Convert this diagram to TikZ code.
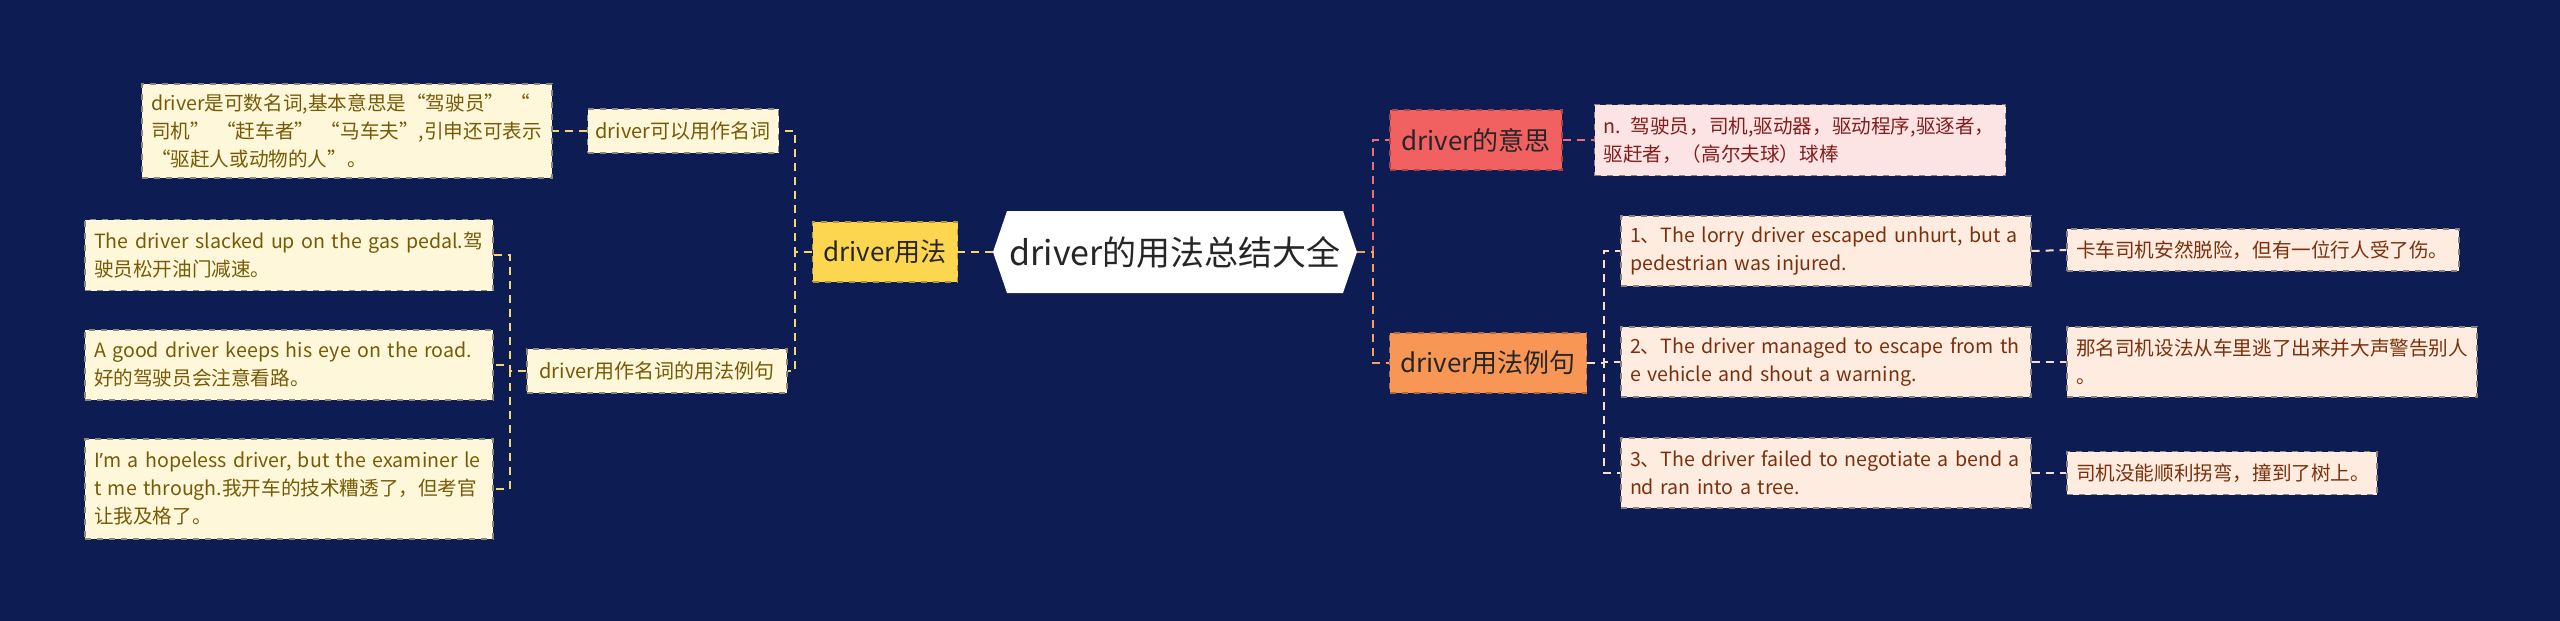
\documentclass[tikz,border=0pt]{standalone}
\usepackage{fontspec}
\setmainfont{Noto Sans CJK SC}
\newfontfamily\latinfont{Noto Sans}
\usepackage{xcolor}
\definecolor{bgnavy}{RGB}{13,29,84}
\definecolor{usagefill}{RGB}{252,214,78}
\definecolor{nounfill}{RGB}{255,247,218}
\definecolor{nountext}{RGB}{118,90,6}
\definecolor{yline}{RGB}{245,215,110}
\definecolor{meanfill}{RGB}{241,97,97}
\definecolor{meanleaf}{RGB}{253,228,228}
\definecolor{meantext}{RGB}{130,30,30}
\definecolor{pline}{RGB}{232,110,120}
\definecolor{exfill}{RGB}{248,150,86}
\definecolor{exleaf}{RGB}{254,236,224}
\definecolor{extext}{RGB}{122,48,12}
\definecolor{oline}{RGB}{245,160,100}
\definecolor{lline}{RGB}{250,222,200}

\begin{document}
\begin{tikzpicture}[x=0.5pt,y=-0.5pt,
  branch/.style={rectangle,fill=#1,draw=#1!70!black,dashed,line width=0.6pt,text=black!85,
    font=\fontsize{13}{16}\selectfont,minimum height=30pt,inner sep=0pt},
  sub/.style={rectangle,fill=nounfill,draw=nounfill!55!black,dashed,line width=0.6pt,text=nountext,
    font=\fontsize{10}{12}\selectfont,minimum height=22pt,inner sep=0pt},
  leaf/.style={rectangle,fill=#1,draw=#1!55!black,dashed,line width=0.6pt,
    font=\fontsize{9.8}{14}\selectfont,align=left,inner xsep=4.5pt,inner ysep=0pt},
  yleaf/.style={leaf=nounfill,text=nountext},
  pleaf/.style={leaf=meanleaf,text=meantext},
  oleaf/.style={leaf=exleaf,text=extext},
  link/.style={draw=#1,dash pattern=on 4pt off 3pt,line width=1pt}]
\fill[bgnavy] (0,0) rectangle (2560,621);
\useasboundingbox (0,0) rectangle (2560,621);

% centre topic
\fill[white] (993,252) -- (1007,211) -- (1343,211) -- (1357,252) -- (1343,293) -- (1007,293) -- cycle;
\node[font=\fontsize{17}{20}\selectfont,text=black!85] (root) at (1175,252) {driver的用法总结大全};
\coordinate (root-w) at (993,252);
\coordinate (root-e) at (1357,252);

% left branch
\node[branch=usagefill,minimum width=72.5pt] (usage) at (885,252) {driver用法};
\node[sub,minimum width=95.5pt] (noun) at (683,131) {driver可以用作名词};
\node[sub,minimum width=130pt] (nounex) at (657,371) {driver用作名词的用法例句};
\node[yleaf,text width=196pt,minimum height=47pt] (def) at (347,131)
  {driver是可数名词,基本意思是“驾驶员” “\\司机” “赶车者” “马车夫”,引申还可表示\\ “驱赶人或动物的人”。};
\node[yleaf,text width=195pt,minimum height=35.5pt] (sent1) at (289,255)
  {The driver slacked up on the gas pedal.驾\\驶员松开油门减速。};
\node[yleaf,text width=195pt,minimum height=35pt] (sent2) at (289,365)
  {A good driver keeps his eye on the road.\\好的驾驶员会注意看路。};
\node[yleaf,text width=195pt,minimum height=50pt] (sent3) at (289,489)
  {\mbox{I{\latinfont\symbol{"2019}}m a hopeless driver, but the examiner le}\\t me through.我开车的技术糟透了，但考官\\让我及格了。};

% right branch
\node[branch=meanfill,minimum width=86pt] (mean) at (1476,140) {driver的意思};
\node[branch=exfill,minimum width=98.5pt] (exs) at (1488,363) {driver用法例句};
\node[pleaf,text width=196.5pt,minimum height=35.5pt] (meaning) at (1800,140)
  {n. 驾驶员，司机,驱动器，驱动程序,驱逐者，\\驱赶者，（高尔夫球）球棒};
\node[oleaf,text width=196pt,minimum height=35pt] (r1) at (1826,251)
  {1、The lorry driver escaped unhurt, but a\\pedestrian was injured.};
\node[oleaf,text width=196pt,minimum height=35pt] (r2) at (1826,362)
  {2、The driver managed to escape from th\\e vehicle and shout a warning.};
\node[oleaf,text width=196pt,minimum height=35pt] (r3) at (1826,473)
  {3、The driver failed to negotiate a bend a\\nd ran into a tree.};
\node[oleaf,text width=187pt,minimum height=21pt] (t1) at (2263,250)
  {卡车司机安然脱险，但有一位行人受了伤。};
\node[oleaf,text width=196pt,minimum height=35pt] (t2) at (2272,362)
  {那名司机设法从车里逃了出来并大声警告别人\\。};
\node[oleaf,text width=146pt,minimum height=21.5pt] (t3) at (2222,473)
  {司机没能顺利拐弯，撞到了树上。};

% connectors
\draw[link=yline] (root-w) -- (usage.east);
\draw[link=yline] (usage.west) -- ++(-17,0) |- (noun.east);
\draw[link=yline] (usage.west) -- ++(-17,0) |- (nounex.east);
\draw[link=yline] (noun.west) -- (def.east);
\foreach \s in {sent1,sent2,sent3}
  \draw[link=yline] (nounex.west) -- ++(-16,0) |- (\s.east);
\draw[link=pline] (root-e) -- ++(16,0) |- (mean.west);
\draw[link=oline] (root-e) -- ++(16,0) |- (exs.west);
\draw[link=pline] (mean.east) -- (meaning.west);
\foreach \r/\t in {r1/t1,r2/t2,r3/t3} {
  \draw[link=lline] (exs.east) -- ++(17,0) |- (\r.west);
  \draw[link=lline] (\r.east) -- (\t.west);
}
\end{tikzpicture}
\end{document}
